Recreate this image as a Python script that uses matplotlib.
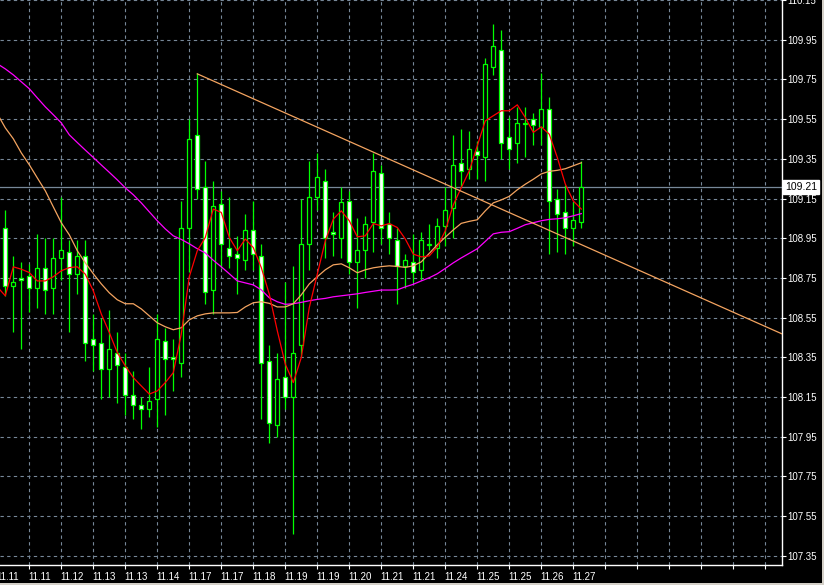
import matplotlib
matplotlib.use("Agg")
import matplotlib.pyplot as plt
from matplotlib.patches import Rectangle
import matplotlib.transforms as mtransforms
import numpy as np

plt.rcParams['font.family'] = ['Liberation Sans', 'DejaVu Sans']

# ---------------- data ----------------
opens = [109.00, 108.71, 108.75, 108.76, 108.70, 108.80, 108.70, 108.85, 108.88, 108.77,
         108.86, 108.44, 108.42, 108.29, 108.37, 108.30, 108.16, 108.11, 108.09, 108.14,
         108.43, 108.35, 108.32, 109.00, 109.47, 109.21, 108.69, 109.12, 108.90, 108.87,
         108.84, 108.99, 108.86, 108.33, 108.01, 108.25, 108.15, 108.41, 108.92, 109.16,
         109.24, 108.98, 108.95, 109.14, 108.83, 108.89, 109.03, 109.28, 109.02, 108.94,
         108.81, 108.83, 108.79, 108.917, 108.90, 109.01, 109.10, 109.33, 109.30, 109.39,
         109.36, 109.81, 109.90, 109.46, 109.43, 109.525, 109.55, 109.51, 109.60, 109.15,
         109.08, 109.00, 109.03]
highs = [109.09, 108.86, 108.83, 108.82, 108.97, 108.95, 108.95, 109.16, 108.94, 108.94,
         108.94, 108.57, 108.55, 108.59, 108.48, 108.37, 108.28, 108.15, 108.30, 108.57,
         108.50, 108.44, 109.14, 109.55, 109.78, 109.34, 109.24, 109.19, 109.16, 108.96,
         109.07, 109.14, 108.92, 108.41, 108.37, 108.73, 108.81, 109.15, 109.34, 109.38,
         109.30, 109.08, 109.21, 109.19, 109.05, 109.06, 109.38, 109.32, 109.08, 109.00,
         108.87, 108.97, 108.98, 109.02, 109.05, 109.21, 109.47, 109.50, 109.49, 109.44,
         109.86, 110.03, 110.00, 109.56, 109.61, 109.61, 109.58, 109.78, 109.66, 109.20,
         109.22, 109.13, 109.34]
lows = [108.66, 108.48, 108.39, 108.58, 108.60, 108.57, 108.57, 108.74, 108.48, 108.67,
        108.33, 108.28, 108.14, 108.15, 108.12, 108.06, 108.04, 107.99, 108.05, 108.00,
        108.06, 108.18, 108.25, 108.78, 109.15, 108.62, 108.57, 108.80, 108.80, 108.67,
        108.79, 108.79, 108.04, 107.92, 107.95, 108.09, 107.46, 108.35, 108.79, 109.09,
        108.85, 108.86, 108.85, 108.77, 108.60, 108.75, 108.88, 108.92, 108.87, 108.62,
        108.70, 108.73, 108.74, 108.89, 108.85, 108.91, 108.95, 109.21, 109.25, 109.25,
        109.24, 109.77, 109.35, 109.30, 109.33, 109.36, 109.42, 109.42, 108.87, 108.88,
        108.87, 108.91, 109.00]
closes = [108.71, 108.73, 108.74, 108.70, 108.80, 108.69, 108.85, 108.89, 108.77, 108.86,
          108.42, 108.41, 108.29, 108.39, 108.31, 108.16, 108.11, 108.09, 108.13, 108.44,
          108.34, 108.34, 109.00, 109.45, 109.20, 108.68, 109.11, 108.92, 108.86, 108.85,
          108.99, 108.87, 108.32, 108.02, 108.24, 108.15, 108.37, 108.92, 109.16, 109.26,
          108.95, 108.97, 109.13, 108.83, 108.89, 109.02, 109.29, 109.00, 108.95, 108.81,
          108.84, 108.78, 108.94, 108.922, 109.01, 109.09, 109.32, 109.29, 109.40, 109.37,
          109.83, 109.92, 109.43, 109.40, 109.53, 109.530, 109.52, 109.60, 109.14, 109.07,
          109.00, 109.04, 109.21]

# moving averages, one value per bar starting one bar before the first visible candle
ma_fast = [108.705, 108.660, 108.806, 108.794, 108.777, 108.735, 108.735, 108.756, 108.786, 108.802,
           108.806, 108.769, 108.685, 108.568, 108.475, 108.374, 108.307, 108.248, 108.206, 108.165,
           108.181, 108.223, 108.273, 108.468, 108.756, 108.887, 108.954, 109.097, 109.080, 108.954,
           108.887, 108.946, 108.903, 108.802, 108.668, 108.484, 108.316, 108.223, 108.349, 108.601,
           108.769, 108.937, 109.046, 109.088, 109.038, 108.957, 108.962, 109.024, 109.012, 109.024,
           109.004, 108.946, 108.870, 108.856, 108.861, 108.907, 108.987, 109.118, 109.205, 109.290,
           109.416, 109.541, 109.567, 109.592, 109.592, 109.622, 109.558, 109.483, 109.511, 109.474,
           109.357, 109.223, 109.138, 109.097]
ma_mid = [109.577, 109.506, 109.451, 109.380, 109.320, 109.254, 109.189, 109.108, 109.028, 108.967,
          108.887, 108.826, 108.771, 108.720, 108.675, 108.640, 108.620, 108.620, 108.594, 108.559,
          108.524, 108.504, 108.489, 108.499, 108.539, 108.559, 108.569, 108.574, 108.574, 108.574,
          108.576, 108.604, 108.625, 108.630, 108.622, 108.604, 108.604, 108.620, 108.665, 108.720,
          108.756, 108.791, 108.816, 108.821, 108.801, 108.776, 108.791, 108.801, 108.807, 108.811,
          108.808, 108.803, 108.811, 108.831, 108.874, 108.917, 108.955, 108.992, 109.025, 109.035,
          109.043, 109.088, 109.128, 109.143, 109.161, 109.194, 109.222, 109.247, 109.274, 109.287,
          109.292, 109.300, 109.315, 109.330]
ma_slow = [109.829, 109.803, 109.773, 109.738, 109.703, 109.657, 109.612, 109.572, 109.531, 109.471,
           109.432, 109.394, 109.357, 109.319, 109.282, 109.244, 109.204, 109.169, 109.128, 109.083,
           109.038, 108.997, 108.962, 108.944, 108.922, 108.897, 108.876, 108.839, 108.806, 108.771,
           108.735, 108.725, 108.715, 108.690, 108.650, 108.630, 108.617, 108.620, 108.627, 108.635,
           108.642, 108.647, 108.655, 108.660, 108.665, 108.670, 108.677, 108.683, 108.689, 108.689,
           108.690, 108.705, 108.718, 108.735, 108.751, 108.771, 108.798, 108.826, 108.851, 108.874,
           108.897, 108.934, 108.972, 108.980, 108.983, 109.000, 109.018, 109.028, 109.038, 109.045,
           109.048, 109.053, 109.063, 109.074]

trend_x = [24, 97.1]
trend_y = [109.778, 108.468]

current_price = 109.21
price_label = "109.21"

y_tick_labels = ['107.35', '107.55', '107.75', '107.95', '108.15', '108.35', '108.55',
                 '108.75', '108.95', '109.15', '109.35', '109.55', '109.75', '109.95', '110.15']
x_tick_labels = ['11.11', '11.11', '11.12', '11.13', '11.13', '11.14', '11.17', '11.17',
                 '11.18', '11.19', '11.19', '11.20', '11.21', '11.21', '11.24', '11.25',
                 '11.25', '11.26', '11.27', '', '', '', '', '', '']

# ---------------- drawing ----------------
W, H = 824, 585
fig = plt.figure(figsize=(W / 100, H / 100), dpi=100, facecolor='black')
ax = fig.add_axes([0, 20 / H, 782 / W, 565 / H])
ax.set_facecolor('black')

GRID = '#778899'
GREEN = '#00ff00'

n = len(opens)

for i in range(n):
    o, h, l, c = opens[i], highs[i], lows[i], closes[i]
    ax.plot([i, i], [l, h], color=GREEN, lw=0.9, zorder=3, solid_capstyle='butt')
    bottom = min(o, c)
    height = max(abs(c - o), 0.001)
    face = 'black' if c >= o else 'white'
    ax.add_patch(Rectangle((i - 0.27, bottom), 0.54, height, facecolor=face,
                           edgecolor=GREEN, lw=0.9, zorder=4))

ma_idx = np.arange(-1, n)
ax.plot(ma_idx, ma_slow, color='#ff00ff', lw=0.9, zorder=5)
ax.plot(ma_idx, ma_mid, color='#f4a460', lw=0.9, zorder=5)
ax.plot(ma_idx, ma_fast, color='#ff0000', lw=0.9, zorder=5)

ax.plot(trend_x, trend_y, color='#f4a460', lw=0.9, zorder=5)

ax.axhline(current_price, color=GRID, lw=0.9, zorder=2)

ax.set_xlim(-0.6625, 97.09)
ax.set_ylim(107.304, 110.15)

# y ticks / grid
y_ticks = [float(s) for s in y_tick_labels]
ax.set_yticks(y_ticks)
ax.set_yticklabels(y_tick_labels)
ax.yaxis.tick_right()
ax.tick_params(axis='y', colors='white', labelcolor='white', labelsize=7,
               length=3, width=0.8, pad=1, direction='out')

# x ticks (only those inside the view) / grid
x_ticks_all = [3 + 4 * k for k in range(-1, len(x_tick_labels) - 1)]
x_ticks = [t for t in x_ticks_all if t >= -0.6625]
x_labels = [lab for t, lab in zip(x_ticks_all, x_tick_labels) if t >= -0.6625]
ax.set_xticks(x_ticks)
ax.set_xticklabels(x_labels)
ax.tick_params(axis='x', colors='white', labelcolor='white', labelsize=7,
               length=3, width=0.8, pad=2, direction='out')
shift = mtransforms.ScaledTranslation(-1 / 100, 0, fig.dpi_scale_trans)
for lbl in ax.get_xticklabels():
    lbl.set_ha('left')
    lbl.set_transform(lbl.get_transform() + shift)
ax.grid(True, color=GRID, linestyle=(0, (3, 3)), linewidth=0.8)
ax.set_axisbelow(True)

# the partially visible first date label at the left edge (its tick lies just outside the view)
first_tf = (mtransforms.blended_transform_factory(ax.transData, ax.transAxes)
            + mtransforms.ScaledTranslation(-1 / 100, -7 / 100, fig.dpi_scale_trans))
ax.text(x_ticks_all[0], 0, x_tick_labels[0], transform=first_tf,
        ha='left', va='top', fontsize=7, color='white', clip_on=False)

for s in ['left', 'top']:
    ax.spines[s].set_visible(False)
for s in ['right', 'bottom']:
    ax.spines[s].set_color('white')
    ax.spines[s].set_linewidth(1.0)

# current price label on the right axis
ax.text(1.004, current_price, price_label, transform=ax.get_yaxis_transform(),
        ha='left', va='center', fontsize=7.5, color='black', clip_on=False,
        bbox=dict(boxstyle='square,pad=0.2', facecolor='white', edgecolor='white'))

# window border
fig.patches.append(Rectangle((0, 0), 1, 2 / H, transform=fig.transFigure,
                             facecolor='#d4d0c8', edgecolor='none'))
fig.patches.append(Rectangle((822 / W, 0), 2 / W, 1, transform=fig.transFigure,
                             facecolor='#d4d0c8', edgecolor='none'))

fig.savefig('out.png', dpi=100, facecolor='black')
